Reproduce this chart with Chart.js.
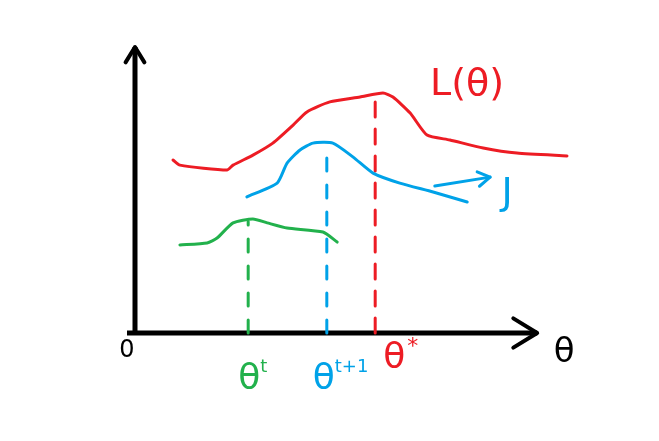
<!DOCTYPE html>
<html>
<head>
<meta charset="utf-8">
<script src="https://cdn.jsdelivr.net/npm/chart.js@4"></script>
<style>
  html, body { margin: 0; padding: 0; background: #fff; }
  canvas { display: block; }
</style>
</head>
<body>
<canvas id="myChart" width="659" height="441"></canvas>
<script>
// L(theta), the red curve
const lossX = [0.88, 1.04, 2.13, 2.27, 2.73, 3.19, 3.66, 3.98, 4.51, 5.21, 5.74, 5.97, 6.37, 6.76, 7.29, 8.06, 8.84, 10.0];
const lossY = [6.05, 5.87, 5.70, 5.87, 6.22, 6.64, 7.27, 7.73, 8.08, 8.25, 8.39, 8.25, 7.69, 6.92, 6.75, 6.47, 6.29, 6.19];
// J at theta^(t+1), the blue curve
const jNextX = [2.59, 3.29, 3.52, 3.82, 4.12, 4.58, 5.05, 5.51, 6.13, 6.90, 7.69];
const jNextY = [4.76, 5.24, 5.94, 6.40, 6.64, 6.64, 6.15, 5.59, 5.24, 4.93, 4.58];
// J at theta^t, the green curve
const jPrevX = [1.04, 1.67, 1.90, 2.27, 2.73, 3.06, 3.52, 4.35, 4.68];
const jPrevY = [3.08, 3.15, 3.32, 3.85, 3.99, 3.85, 3.67, 3.53, 3.18];

// marked theta values and the height of each dashed drop line
const thetaT = 2.62, thetaTTop = 3.9;
const thetaT1 = 4.44, thetaT1Top = 6.5;
const thetaStar = 5.56, thetaStarTop = 8.3;

// little arrow pointing at the J label
const jArrowX = [6.94, 8.22];
const jArrowY = [5.14, 5.45];

const xAxisEnd = 9.31;
const yAxisEnd = 10;

const RED = '#ed1c24', BLUE = '#00a2e8', GREEN = '#22b14c';

function pts(xs, ys) {
    return xs.map((x, i) => ({ x: x, y: ys[i] }));
}
function drop(x, top) {
    return [{ x: x, y: 0 }, { x: x, y: top }];
}

const data = {
    datasets: [
        { data: pts(lossX, lossY), borderColor: RED, borderWidth: 3, tension: 0.2 },
        { data: pts(jNextX, jNextY), borderColor: BLUE, borderWidth: 3, tension: 0.2 },
        { data: pts(jPrevX, jPrevY), borderColor: GREEN, borderWidth: 3, tension: 0.2 },
        { data: drop(thetaT, thetaTTop), borderColor: GREEN, borderWidth: 3, borderDash: [13, 14] },
        { data: drop(thetaT1, thetaT1Top), borderColor: BLUE, borderWidth: 3, borderDash: [13, 14] },
        { data: drop(thetaStar, thetaStarTop), borderColor: RED, borderWidth: 3, borderDash: [15, 12] },
        { data: pts(jArrowX, jArrowY), borderColor: BLUE, borderWidth: 3 }
    ]
};

function arrowHead(ctx, x0, y0, x1, y1, len, color, width) {
    const a = Math.atan2(y1 - y0, x1 - x0);
    ctx.save();
    ctx.strokeStyle = color;
    ctx.lineWidth = width;
    ctx.lineCap = 'round';
    ctx.lineJoin = 'round';
    ctx.beginPath();
    ctx.moveTo(x1 - len * Math.cos(a - 0.55), y1 - len * Math.sin(a - 0.55));
    ctx.lineTo(x1, y1);
    ctx.lineTo(x1 - len * Math.cos(a + 0.55), y1 - len * Math.sin(a + 0.55));
    ctx.stroke();
    ctx.restore();
}

const sketch = {
    id: 'sketch',
    beforeDatasetsDraw(chart) {
        const ctx = chart.ctx;
        const sx = chart.scales.x, sy = chart.scales.y;
        const ox = sx.getPixelForValue(0), oy = sy.getPixelForValue(0);
        const ex = sx.getPixelForValue(xAxisEnd), ey = sy.getPixelForValue(yAxisEnd);
        ctx.save();
        ctx.strokeStyle = '#000';
        ctx.lineWidth = 5;
        ctx.beginPath();
        ctx.moveTo(ox, oy);
        ctx.lineTo(ox, ey);
        ctx.moveTo(ox - 8, oy);
        ctx.lineTo(ex, oy);
        ctx.stroke();
        ctx.restore();
        arrowHead(ctx, ox, oy, ox, ey, 18, '#000', 4);
        arrowHead(ctx, ox, oy, ex, oy, 28, '#000', 4);
    },
    afterDatasetsDraw(chart) {
        const ctx = chart.ctx;
        const sx = chart.scales.x, sy = chart.scales.y;
        const px = v => sx.getPixelForValue(v), py = v => sy.getPixelForValue(v);
        arrowHead(ctx, px(jArrowX[0]), py(jArrowY[0]), px(jArrowX[1]), py(jArrowY[1]), 14, BLUE, 3);

        ctx.save();
        ctx.textAlign = 'center';
        ctx.textBaseline = 'middle';
        ctx.font = '24px "DejaVu Sans"';
        ctx.fillStyle = '#000';
        ctx.fillText('0', px(0) - 8, py(0) + 18);
        ctx.font = '34px "DejaVu Sans"';
        ctx.fillText('θ', px(xAxisEnd) + 27, py(0) + 20);

        ctx.font = '38px "DejaVu Sans"';
        ctx.fillStyle = RED;
        ctx.fillText('L(θ)', px(lossX[lossX.length - 1]) - 100, py(yAxisEnd) + 38);
        ctx.fillStyle = BLUE;
        ctx.fillText('J', px(jArrowX[1]) + 17, py(jArrowY[1]) + 17);

        ctx.textAlign = 'left';
        ctx.font = '36px "DejaVu Sans"';
        ctx.fillStyle = GREEN;
        ctx.fillText('θ', px(thetaT) - 10, py(0) + 47);
        ctx.font = '18px "DejaVu Sans"';
        ctx.fillText('t', px(thetaT) + 12, py(0) + 34);

        ctx.font = '36px "DejaVu Sans"';
        ctx.fillStyle = BLUE;
        ctx.fillText('θ', px(thetaT1) - 14, py(0) + 47);
        ctx.font = '18px "DejaVu Sans"';
        ctx.fillText('t+1', px(thetaT1) + 8, py(0) + 34);

        ctx.font = '36px "DejaVu Sans"';
        ctx.fillStyle = RED;
        ctx.fillText('θ', px(thetaStar) + 8, py(0) + 26);
        ctx.font = '22px "DejaVu Sans"';
        ctx.fillText('*', px(thetaStar) + 32, py(0) + 14);
        ctx.restore();
    }
};

const config = {
    type: 'scatter',
    data: data,
    options: {
        responsive: false,
        animation: false,
        showLine: true,
        layout: {
            padding: { left: 135, top: 47, right: 92, bottom: 108 }
        },
        elements: {
            point: { radius: 0, hoverRadius: 0 },
            line: { fill: false, borderCapStyle: 'round', borderJoinStyle: 'round' }
        },
        datasets: { scatter: { clip: false } },
        scales: {
            x: { type: 'linear', min: 0, max: 10, display: false },
            y: { type: 'linear', min: 0, max: 10, display: false }
        },
        plugins: {
            legend: { display: false },
            tooltip: { enabled: false }
        }
    },
    plugins: [sketch]
};

const myChart = new Chart(document.getElementById('myChart'), config);
</script>
</body>
</html>
